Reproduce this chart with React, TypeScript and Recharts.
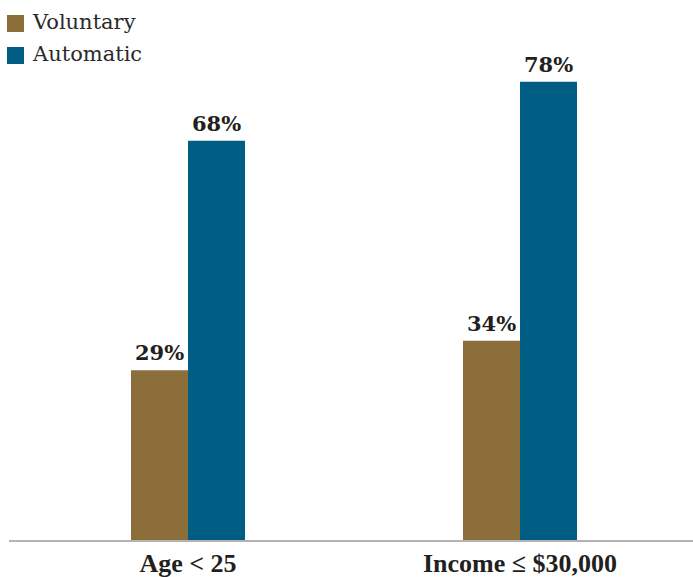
import React from 'react';
import { BarChart, Bar, XAxis, YAxis, Legend, LabelList } from 'recharts';

const categories = ['Age < 25', 'Income ≤ $30,000'];
const voluntary = [29, 34];
const automatic = [68, 78];
const seriesNames = ['Voluntary', 'Automatic'];
const seriesColors = ['#8B6E3A', '#005E85'];

const data = categories.map((c, i) => ({ name: c, voluntary: voluntary[i], automatic: automatic[i] }));

const TEXT = '#231f20';

const renderLegend = () => (
  <div style={{ position: 'relative', width: 200, height: 70 }}>
    {seriesNames.map((n, i) => (
      <div key={n} style={{ position: 'absolute', left: 7, top: 15 + i * 32, height: 17, display: 'flex', alignItems: 'center' }}>
        <div style={{ width: 17, height: 17, background: seriesColors[i] }} />
        <span style={{ marginLeft: 9, fontFamily: 'DejaVu Serif', fontSize: 21, color: '#2a2a2a', lineHeight: '17px', position: 'relative', top: -1, whiteSpace: 'nowrap' }}>{n}</span>
      </div>
    ))}
  </div>
);

const Tick = (props: any) => {
  const { x, y, payload } = props;
  return (
    <text x={x} y={y} dy={31} textAnchor="middle" fontFamily="Liberation Serif" fontWeight="bold" fontSize={26} fill={TEXT}>
      {payload.value}
    </text>
  );
};

const pct = (v: any) => `${v}%`;

export default function App() {
  return (
    <div style={{ position: 'absolute', left: 0, top: 0 }}>
      <BarChart
        width={693}
        height={577}
        data={data}
        margin={{ top: 70, right: 0, bottom: 0, left: 9 }}
        barGap={0}
        barSize={57}
      >
        <XAxis
          dataKey="name"
          height={36}
          padding={{ left: 13, right: 7 }}
          axisLine={{ stroke: '#b3b3b3', strokeWidth: 2 }}
          tickLine={false}
          tickSize={0}
          tickMargin={0}
          tick={<Tick />}
          interval={0}
        />
        <YAxis hide domain={[0, 80]} />
        <Legend
          layout="vertical"
          align="center"
          verticalAlign="middle"
          content={renderLegend}
          wrapperStyle={{ top: 0, left: 0, width: 200, height: 70 }}
        />
        <Bar dataKey="voluntary" name={seriesNames[0]} fill={seriesColors[0]} isAnimationActive={false}>
          <LabelList dataKey="voluntary" position="top" offset={10} formatter={pct} fill={TEXT} fontFamily="DejaVu Serif" fontWeight="bold" fontSize={21} />
        </Bar>
        <Bar dataKey="automatic" name={seriesNames[1]} fill={seriesColors[1]} isAnimationActive={false}>
          <LabelList dataKey="automatic" position="top" offset={10} formatter={pct} fill={TEXT} fontFamily="DejaVu Serif" fontWeight="bold" fontSize={21} />
        </Bar>
      </BarChart>
    </div>
  );
}
